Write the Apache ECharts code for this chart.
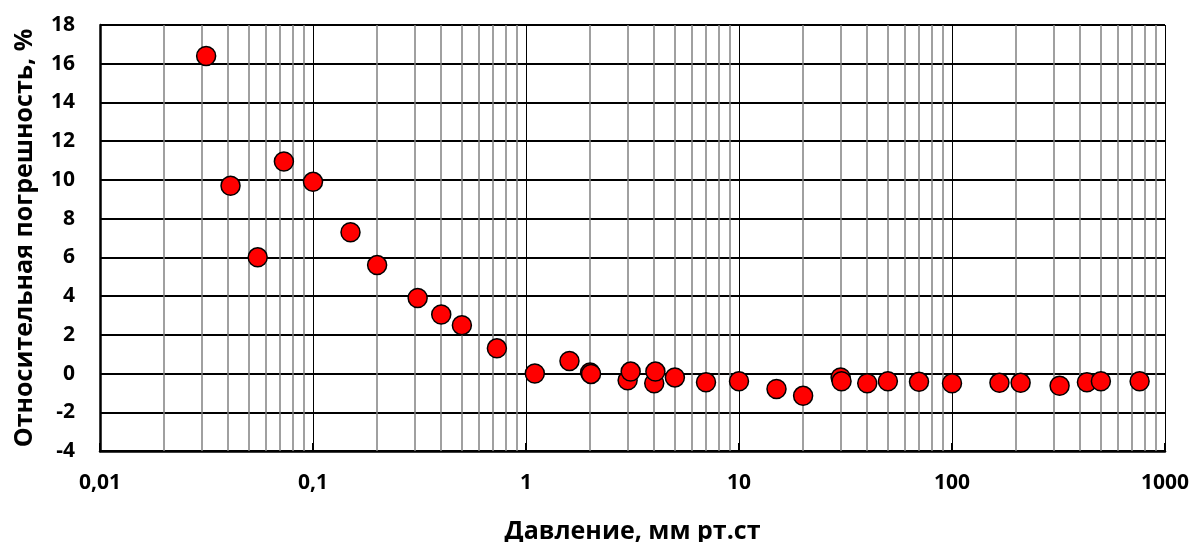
<!DOCTYPE html>
<html>
<head>
<meta charset="utf-8">
<script src="https://cdn.jsdelivr.net/npm/echarts@6/dist/echarts.min.js"></script>
<style>
  html, body { margin: 0; padding: 0; background: #fff; }
  #chart { width: 1195px; height: 542px; }
</style>
</head>
<body>
<div id="chart"></div>
<script>
// давление, мм рт.ст
const pressure = [0.0315, 0.041, 0.055, 0.073, 0.1, 0.15, 0.2, 0.31, 0.4, 0.5, 0.73,
  1.1, 1.6, 2.0, 2.02, 3.0, 3.1, 4.0, 4.05, 5.0, 7.0, 10, 15, 20,
  30, 30.3, 40, 50, 70, 100, 167, 210, 320, 430, 500, 760];
// относительная погрешность, %
const errorPct = [16.4, 9.7, 6.0, 10.95, 9.9, 7.3, 5.6, 3.9, 3.05, 2.5, 1.3,
  0.0, 0.65, 0.05, -0.02, -0.35, 0.1, -0.5, 0.1, -0.2, -0.45, -0.4, -0.8, -1.15,
  -0.2, -0.4, -0.5, -0.4, -0.43, -0.5, -0.48, -0.48, -0.63, -0.45, -0.4, -0.4];

// промежуточные линии сетки внутри декад
const minorGrid = [];
[0.01, 0.1, 1, 10, 100].forEach(d => {
  for (let k = 2; k <= 9; k++) minorGrid.push(+(d * k).toPrecision(3));
});

const font = 'Open Sans';

const chart = echarts.init(document.getElementById('chart'));

chart.setOption({
  animation: false,
  grid: { left: 100, right: 30, top: 25, bottom: 91, outerBoundsMode: 'none' },
  xAxis: {
    type: 'log',
    logBase: 10,
    min: 0.01,
    max: 1000,
    name: 'Давление, мм рт.ст',
    nameLocation: 'middle',
    nameGap: 68,
    nameTextStyle: { fontFamily: font, fontWeight: 'bold', fontSize: 25, color: '#000' },
    axisLine: { onZero: false, lineStyle: { color: '#000', width: 2.5 } },
    axisTick: { inside: true, length: 8, lineStyle: { color: '#000', width: 2 } },
    axisLabel: {
      margin: 22,
      fontFamily: font, fontWeight: 'bold', fontSize: 21, color: '#000',
      formatter: v => String(v).replace('.', ',')
    },
    splitLine: { show: true, lineStyle: { color: '#000', width: 1 } }
  },
  yAxis: {
    type: 'value',
    min: -4,
    max: 18,
    interval: 2,
    name: 'Относительная погрешность, %',
    nameLocation: 'middle',
    nameGap: 63,
    nameTextStyle: { fontFamily: font, fontWeight: 'bold', fontSize: 25, color: '#000' },
    axisLine: { show: true, lineStyle: { color: '#000', width: 2.5 } },
    axisTick: { show: false },
    axisLabel: {
      margin: 25,
      fontFamily: font, fontWeight: 'bold', fontSize: 21, color: '#000'
    },
    splitLine: { show: true, lineStyle: { color: '#000', width: 2 } }
  },
  series: [
    {
      type: 'line',
      data: [],
      silent: true,
      markLine: {
        silent: true,
        symbol: 'none',
        label: { show: false },
        lineStyle: { color: '#808080', width: 1.5, type: 'solid' },
        data: minorGrid.map(v => ({ xAxis: v }))
      },
      z: 1
    },
    {
      type: 'scatter',
      data: pressure.map((p, i) => [p, errorPct[i]]),
      symbol: 'circle',
      symbolSize: 19,
      itemStyle: { color: '#ff0000', borderColor: '#000', borderWidth: 1.5, opacity: 1 },
      z: 5
    }
  ]
});
</script>
</body>
</html>
